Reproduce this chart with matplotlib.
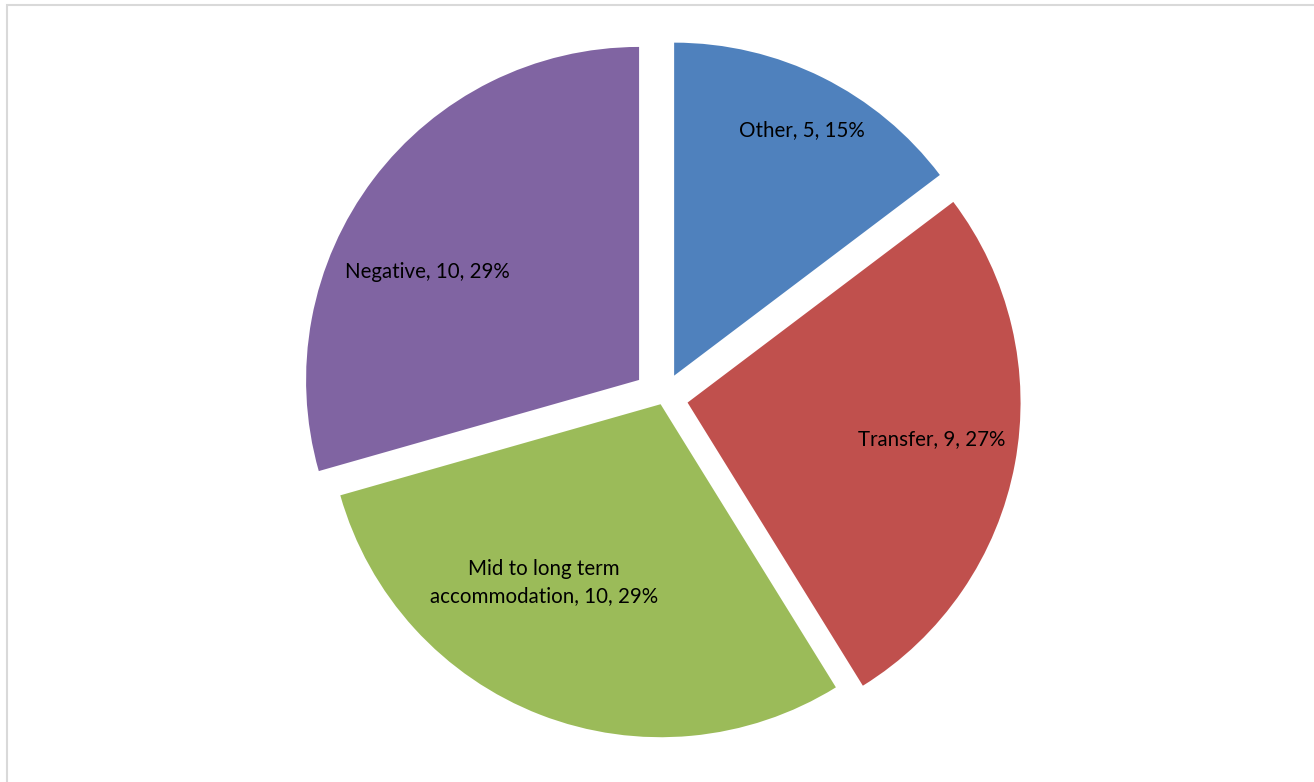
import numpy as np
import matplotlib.pyplot as plt
from matplotlib.patches import Rectangle

# data
categories = ["Other", "Transfer", "Mid to long term\naccommodation", "Negative"]
counts = [5, 9, 10, 10]
pct_labels = ["15%", "27%", "29%", "29%"]

colors = ["#4F81BD", "#C0504D", "#9BBB59", "#8064A2"]
explode = [0.075, 0.075, 0.02, 0.09]
label_dist = [0.83, 0.74, 0.64, 0.715]
label_turn = [-1, 2, -12, 10]   # degrees off the wedge bisector

W, H = 1314, 782
cx, cy, r = 663, 398, 333  # pixel centre / radius of the pie

fig = plt.figure(figsize=(W / 100, H / 100), dpi=100)
ax = fig.add_axes([0, 0, 1, 1])

wedges, _ = ax.pie(counts, colors=colors, startangle=90, counterclock=False,
                   explode=explode, radius=1, wedgeprops=dict(linewidth=0))

# pie() resets the limits, so set them afterwards
ax.set_aspect("auto")
ax.set_xlim(-cx / r, (W - cx) / r)
ax.set_ylim(-(H - cy) / r, cy / r)
ax.axis("off")

for w, cat, n, p, d, t in zip(wedges, categories, counts, pct_labels, label_dist, label_turn):
    ang = np.deg2rad((w.theta1 + w.theta2) / 2 + t)
    x0, y0 = w.center
    ax.text(x0 + d * np.cos(ang), y0 + d * np.sin(ang), f"{cat}, {n}, {p}",
            ha="center", va="center", fontsize=14.8, family="Lato",
            linespacing=1.4, color="black")

# chart area border (only top and left visible)
fig.patches.append(Rectangle((7 / W, -0.1), 1.2, 1.1 - 5 / H, transform=fig.transFigure,
                             fill=False, edgecolor="#d9d9d9", linewidth=1.5))

plt.savefig("out.png", dpi=100)
